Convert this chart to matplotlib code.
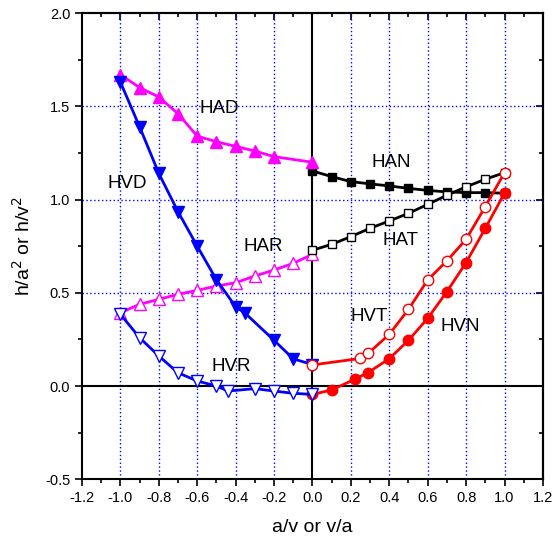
import matplotlib
matplotlib.use("Agg")
import matplotlib.pyplot as plt
from matplotlib.ticker import MultipleLocator

plt.rcParams['font.family'] = ['Liberation Sans', 'DejaVu Sans']

# ---- data ----
had_x = [-1.0, -0.9, -0.8, -0.7, -0.6, -0.5, -0.4, -0.3, -0.2, 0.0]
had_y = [1.67, 1.60, 1.55, 1.46, 1.34, 1.31, 1.285, 1.26, 1.23, 1.20]

hvd_x = [-1.0, -0.9, -0.8, -0.7, -0.6, -0.5, -0.4, -0.35, -0.2, -0.1, 0.0]
hvd_y = [1.63, 1.39, 1.14, 0.935, 0.75, 0.57, 0.425, 0.39, 0.245, 0.146, 0.115]

har_x = [-1.0, -0.9, -0.8, -0.7, -0.6, -0.5, -0.4, -0.3, -0.2, -0.1, 0.0]
har_y = [0.393, 0.438, 0.465, 0.492, 0.513, 0.536, 0.554, 0.59, 0.622, 0.658, 0.706]

hvr_x = [-1.0, -0.9, -0.8, -0.7, -0.6, -0.5, -0.44, -0.3, -0.2, -0.1, 0.0]
hvr_y = [0.385, 0.259, 0.161, 0.071, 0.027, 0.0, -0.027, -0.014, -0.027, -0.039, -0.045]

han_x = [0.0, 0.1, 0.2, 0.3, 0.4, 0.5, 0.6, 0.7, 0.8, 0.9, 1.0]
han_y = [1.153, 1.123, 1.096, 1.084, 1.073, 1.060, 1.049, 1.041, 1.037, 1.037, 1.034]

hat_x = [0.0, 0.1, 0.2, 0.3, 0.4, 0.5, 0.6, 0.7, 0.8, 0.9, 1.0]
hat_y = [0.728, 0.760, 0.801, 0.846, 0.885, 0.926, 0.974, 1.023, 1.068, 1.109, 1.144]

hvt_x = [0.0, 0.25, 0.29, 0.4, 0.5, 0.6, 0.7, 0.8, 0.9, 1.0]
hvt_y = [0.113, 0.148, 0.175, 0.277, 0.411, 0.569, 0.671, 0.787, 0.962, 1.144]

hvn_x = [0.0, 0.1, 0.22, 0.29, 0.4, 0.5, 0.6, 0.7, 0.8, 0.9, 1.0]
hvn_y = [-0.045, -0.021, 0.036, 0.072, 0.147, 0.245, 0.363, 0.506, 0.662, 0.846, 1.034]

labels = ["HAD", "HVD", "HAR", "HVR", "HAN", "HAT", "HVT", "HVN"]
label_x = [-0.484, -0.964, -0.255, -0.423, 0.41, 0.456, 0.293, 0.77]
label_y = [1.489, 1.084, 0.748, 0.103, 1.198, 0.778, 0.371, 0.318]

x_ticks = [-1.2, -1.0, -0.8, -0.6, -0.4, -0.2, 0.0, 0.2, 0.4, 0.6, 0.8, 1.0, 1.2]
y_ticks = [-0.5, 0.0, 0.5, 1.0, 1.5, 2.0]

# ---- figure ----
fig = plt.figure(figsize=(5.54, 5.44), dpi=100)
ax = fig.add_axes([0.148, 0.119, 0.832, 0.857])

ax.set_xlim(-1.2, 1.2)
ax.set_ylim(-0.5, 2.0)

for g in [-1.0, -0.8, -0.6, -0.4, -0.2, 0.2, 0.4, 0.6, 0.8, 1.0]:
    ax.axvline(g, color='blue', ls=(0, (1, 1.8)), lw=1, zorder=0.5)
for g in [0.5, 1.0, 1.5]:
    ax.axhline(g, color='blue', ls=(0, (1, 1.8)), lw=1, zorder=0.5)
ax.axhline(0, color='black', lw=1.5, zorder=1)
ax.axvline(0, color='black', lw=1.5, zorder=1)

lw = 2.0
ax.plot(han_x, han_y, color='black', lw=lw, marker='s', ms=6, mfc='black', mec='black', zorder=2)
ax.plot(hat_x, hat_y, color='black', lw=lw, marker='s', ms=6, mfc='white', mec='black', mew=1, zorder=2.5)
ax.plot(had_x, had_y, color='#ff00ff', lw=lw, marker='^', ms=8, mfc='#ff00ff', mec='#ff00ff', zorder=3)
ax.plot(har_x, har_y, color='#ff00ff', lw=lw, marker='^', ms=8, mfc='white', mec='#ff00ff', mew=1, zorder=2.2)
ax.plot(hvd_x, hvd_y, color='blue', lw=lw, marker='v', ms=8, mfc='blue', mec='blue', zorder=3)
ax.plot(hvn_x, hvn_y, color='red', lw=lw, marker='o', ms=7.5, mfc='red', mec='red', zorder=3.5)
ax.plot(hvr_x, hvr_y, color='blue', lw=lw, marker='v', ms=8, mfc='white', mec='blue', mew=1, zorder=4)
ax.plot(hvt_x, hvt_y, color='red', lw=lw, marker='o', ms=7.5, mfc='white', mec='red', mew=1, zorder=4)

for t, x, y in zip(labels, label_x, label_y):
    ax.text(x, y, t, fontsize=13.5, ha='center', va='center', zorder=5)

ax.set_xticks(x_ticks)
ax.set_yticks(y_ticks)
ax.set_xticklabels([f"{v:.1f}" for v in x_ticks])
ax.set_yticklabels([f"{v:.1f}" for v in y_ticks])
ax.xaxis.set_minor_locator(MultipleLocator(0.1))
ax.yaxis.set_minor_locator(MultipleLocator(0.25))
ax.tick_params(which='both', direction='out', top=False, right=False, labelsize=10.5, width=1.2)
ax.tick_params(which='major', length=5)
ax.tick_params(which='minor', length=3)

secx = ax.secondary_xaxis('top')
secx.set_xticks(x_ticks)
secx.xaxis.set_minor_locator(MultipleLocator(0.1))
secx.tick_params(which='both', direction='in', labeltop=False, width=1.2)
secx.tick_params(which='major', length=5)
secx.tick_params(which='minor', length=3)
secx.spines['top'].set_linewidth(1.5)
secy = ax.secondary_yaxis('right')
secy.set_yticks(y_ticks)
secy.yaxis.set_minor_locator(MultipleLocator(0.25))
secy.tick_params(which='both', direction='in', labelright=False, width=1.2)
secy.tick_params(which='major', length=5)
secy.tick_params(which='minor', length=3)
secy.spines['right'].set_linewidth(1.5)
for s in ax.spines.values():
    s.set_linewidth(1.5)

ax.set_xlabel("a/v or v/a", fontsize=14, labelpad=10)
ax.set_ylabel("h/a$^2$ or h/v$^2$", fontsize=14, labelpad=8)

fig.savefig("out.png", dpi=100)
